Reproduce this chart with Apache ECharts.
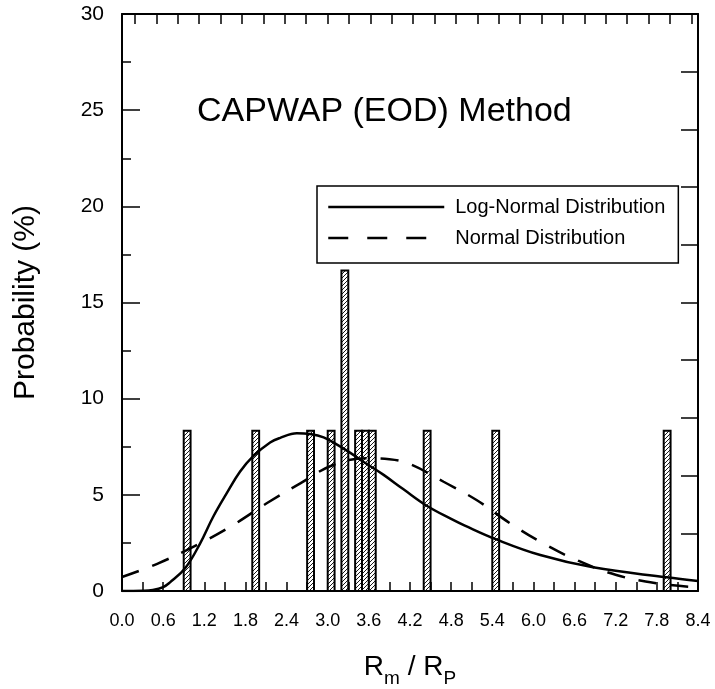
<!DOCTYPE html>
<html><head><meta charset="utf-8">
<script src="https://cdn.jsdelivr.net/npm/echarts@6/dist/echarts.min.js"></script>
<style>html,body{margin:0;padding:0;background:#fff}#c{width:715px;height:689px}</style>
</head><body><div id="c"></div>
<script>
// Histogram bins (bin width 0.1), centers and probability (%)
const binCenters = [0.95, 1.95, 2.75, 3.05, 3.25, 3.45, 3.55, 3.65, 4.45, 5.45, 7.95];
const binProb    = [8.33, 8.33, 8.33, 8.33, 16.67, 8.33, 8.33, 8.33, 8.33, 8.33, 8.33];
const binWidth = 0.1;

// Log-normal distribution curve
const logNormalX = [0.0, 0.3, 0.45, 0.6, 0.7, 0.92, 1.14, 1.33, 1.53, 1.72, 1.91, 2.16, 2.3, 2.55, 2.74, 2.94, 3.13, 3.33, 3.52, 3.81, 4.1, 4.45, 4.8, 5.0, 5.46, 6.1, 6.87, 7.94, 8.4];
const logNormalY = [0.0, 0.01, 0.05, 0.2, 0.45, 1.18, 2.48, 3.86, 5.1, 6.2, 7.0, 7.72, 7.95, 8.2, 8.16, 7.99, 7.62, 7.18, 6.72, 6.05, 5.3, 4.42, 3.75, 3.4, 2.68, 1.87, 1.23, 0.71, 0.52];

// Normal distribution curve
const normalX = [0.0, 0.53, 1.14, 1.62, 2.11, 2.6, 3.08, 3.57, 3.9, 4.2, 4.69, 5.17, 5.66, 6.14, 6.63, 7.21, 7.8, 8.4];
const normalY = [0.73, 1.44, 2.48, 3.43, 4.56, 5.6, 6.55, 6.9, 6.85, 6.6, 5.68, 4.73, 3.52, 2.48, 1.61, 0.83, 0.4, 0.19];

const xTickLabels = ['0.0','0.6','1.2','1.8','2.4','3.0','3.6','4.2','4.8','5.4','6.0','6.6','7.2','7.8','8.4'];
const yTickLabels = ['0','5','10','15','20','25','30'];

const seriesNames = ['Log-Normal Distribution', 'Normal Distribution'];

const FONT = 'Liberation Sans, Arial, sans-serif';

// hatch pattern
const pc = document.createElement('canvas');
pc.width = 4; pc.height = 4;
const pctx = pc.getContext('2d');
pctx.fillStyle = '#fff'; pctx.fillRect(0,0,4,4);
pctx.strokeStyle = '#000'; pctx.lineWidth = 0.9;
pctx.beginPath();
pctx.moveTo(0,4); pctx.lineTo(4,0);
pctx.moveTo(-1,1); pctx.lineTo(1,-1);
pctx.moveTo(3,5); pctx.lineTo(5,3);
pctx.stroke();

const chart = echarts.init(document.getElementById('c'));

function fmtX(v){
  const s = v.toFixed(1);
  return xTickLabels.indexOf(s) >= 0 ? s : '';
}
function fmtY(v){
  const s = String(Math.round(v));
  return yTickLabels.indexOf(s) >= 0 ? s : '';
}

const axisLine = {show:true, onZero:false, lineStyle:{color:'#000', width:2}};
const hiddenSymbol = {color: 'rgba(0,0,0,0)', borderColor: 'rgba(0,0,0,0)', borderWidth: 0, opacity: 0};

chart.setOption({
  animation: false,
  backgroundColor: '#fff',
  title: {
    text: 'CAPWAP (EOD) Method',
    left: 192, top: 90,
    textStyle: {fontFamily: FONT, fontSize: 34, fontWeight: 'normal', color: '#000'}
  },
  legend: {
    data: [
      {name: seriesNames[0], icon: 'inherit', itemStyle: hiddenSymbol, lineStyle:{color:'#000', width:2.5, type:'solid', opacity:1}},
      {name: seriesNames[1], icon: 'inherit', itemStyle: hiddenSymbol, lineStyle:{color:'#000', width:2.5, type:[20,19], opacity:1}}
    ],
    orient: 'vertical',
    left: 317, top: 186,
    itemWidth: 116, itemHeight: 14, itemGap: 9,
    padding: [10, 13, 14, 10],
    borderColor: '#000', borderWidth: 1.5,
    backgroundColor: '#fff',
    selectedMode: false,
    textStyle: {fontFamily: FONT, fontSize: 20, color: '#000', lineHeight: 22, padding: [0, 0, 0, 6]}
  },
  grid: {left: 122, right: 17, top: 14, bottom: 98, containLabel: false, outerBoundsMode: 'none'},
  xAxis: [
    {
      type: 'value', position: 'bottom', min: 0, max: 8.4, interval: 0.3,
      axisLine: axisLine,
      axisTick: {show:true, inside:true, length:9, lineStyle:{color:'#000', width:1.5}},
      axisLabel: {formatter: fmtX, margin: 21, fontFamily: FONT, fontSize: 18, color:'#000', showMinLabel:true, showMaxLabel:true, hideOverlap:false},
      splitLine: {show:false},
      name: '{r|R}{s|m}{r| / R}{s|P}',
      nameLocation: 'middle', nameGap: 62,
      nameTextStyle: {
        rich: {
          r: {fontFamily: FONT, fontSize: 28, color:'#000', lineHeight: 32, verticalAlign:'top'},
          s: {fontFamily: FONT, fontSize: 19, color:'#000', lineHeight: 21, padding:[16,0,0,0], verticalAlign:'top'}
        }
      }
    },
    {
      type: 'value', position: 'top', min: -0.607, max: 26.308, minInterval: 1, maxInterval: 1,
      axisLine: axisLine,
      axisTick: {show:true, inside:true, length:10, lineStyle:{color:'#000', width:1.5}},
      axisLabel: {show:false},
      splitLine: {show:false}
    }
  ],
  yAxis: [
    {
      type: 'value', position: 'left', min: 0, max: 30, interval: 5,
      axisLine: axisLine,
      axisTick: {show:true, inside:true, length:18, lineStyle:{color:'#000', width:1.5}},
      minorTick: {show:true, splitNumber:2, length:9, lineStyle:{color:'#000', width:1.5}},
      axisLabel: {formatter: fmtY, margin: 18, fontFamily: FONT, fontSize: 21, color:'#000'},
      splitLine: {show:false}, minorSplitLine:{show:false},
      name: 'Probability (%)', nameLocation: 'middle', nameGap: 81,
      nameTextStyle: {fontFamily: FONT, fontSize: 30, color:'#000'}
    },
    {
      type: 'value', position: 'right', min: 0, max: 30, interval: 3,
      axisLine: axisLine,
      axisTick: {show:true, inside:true, length:17, lineStyle:{color:'#000', width:1.5}},
      axisLabel: {show:false},
      splitLine: {show:false}
    }
  ],
  series: [
    {
      type: 'custom', name: 'Histogram', xAxisIndex: 0, yAxisIndex: 0,
      data: binCenters.map((c, i) => [c, binProb[i]]),
      renderItem: function(params, api){
        const c = api.value(0), v = api.value(1);
        const p0 = api.coord([c - binWidth/2, v]);
        const p1 = api.coord([c + binWidth/2, 0]);
        return {
          type: 'rect',
          shape: {x: p0[0], y: p0[1], width: p1[0]-p0[0], height: p1[1]-p0[1]},
          style: {fill: {image: pc, repeat: 'repeat'}, stroke: '#000', lineWidth: 2}
        };
      },
      z: 2
    },
    {
      type: 'line', name: seriesNames[0], xAxisIndex: 0, yAxisIndex: 0,
      data: logNormalX.map((x, i) => [x, logNormalY[i]]),
      smooth: 0.4, symbol: 'none',
      lineStyle: {color:'#000', width:2.5, type:'solid'},
      itemStyle: {color:'#000'},
      z: 3
    },
    {
      type: 'line', name: seriesNames[1], xAxisIndex: 0, yAxisIndex: 0,
      data: normalX.map((x, i) => [x, normalY[i]]),
      smooth: 0.4, symbol: 'none',
      lineStyle: {color:'#000', width:2.5, type:[18,14]},
      itemStyle: {color:'#000'},
      z: 3
    }
  ]
});
</script>
</body></html>
